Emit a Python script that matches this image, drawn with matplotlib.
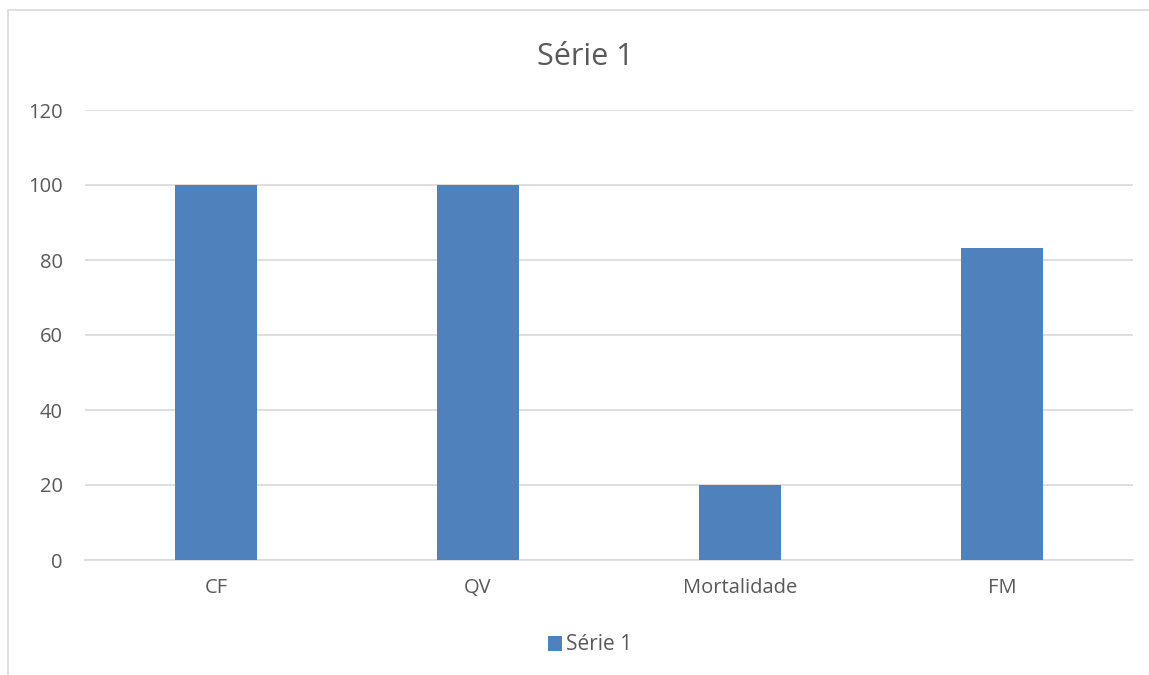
import matplotlib.pyplot as plt
from matplotlib.patches import Rectangle

categorias = ['CF', 'QV', 'Mortalidade', 'FM']
valores = [100, 100, 20, 83.33]
serie = 'Série 1'

plt.rcParams['font.family'] = ['Open Sans', 'DejaVu Sans']
cor_texto = '#595959'

fig = plt.figure(figsize=(11.49, 6.75), dpi=100)
ax = fig.add_axes([85 / 1149, 1 - 560 / 675, 1048 / 1149, 450 / 675])

x = range(len(categorias))
ax.bar(x, valores, width=0.313, color='#4F81BD', label=serie, zorder=3)

ax.set_xlim(-0.5, len(categorias) - 0.5)
ax.set_ylim(0, 120)
ax.set_yticks(range(0, 121, 20))
ax.set_xticks(list(x))
ax.set_xticklabels(categorias)
ax.grid(axis='y', color='#D9D9D9', linewidth=1.2, zorder=0)
for s in ['top', 'right', 'left']:
    ax.spines[s].set_visible(False)
ax.spines['bottom'].set_color('#D9D9D9')
ax.spines['bottom'].set_linewidth(1.2)
ax.tick_params(axis='both', length=0, labelsize=14.5, colors=cor_texto)
ax.tick_params(axis='y', pad=16)
ax.tick_params(axis='x', pad=13)

fig.text(0.509, 1 - 57 / 675, serie, ha='center', va='center', fontsize=22, color=cor_texto)

ax.legend(loc='center', bbox_to_anchor=((590 - 85) / 1048, (560 - 645) / 450), frameon=False,
          fontsize=15, labelcolor=cor_texto, handlelength=0.7, handleheight=0.7,
          handletextpad=0.2)

# moldura do gráfico (cortada à direita e embaixo)
fig.patches.append(Rectangle((8 / 1149, -0.1), 1.2, 1 - 10 / 675 + 0.1,
                             transform=fig.transFigure, fill=False,
                             edgecolor='#D9D9D9', linewidth=1.2))

fig.savefig('out.png', dpi=100)
